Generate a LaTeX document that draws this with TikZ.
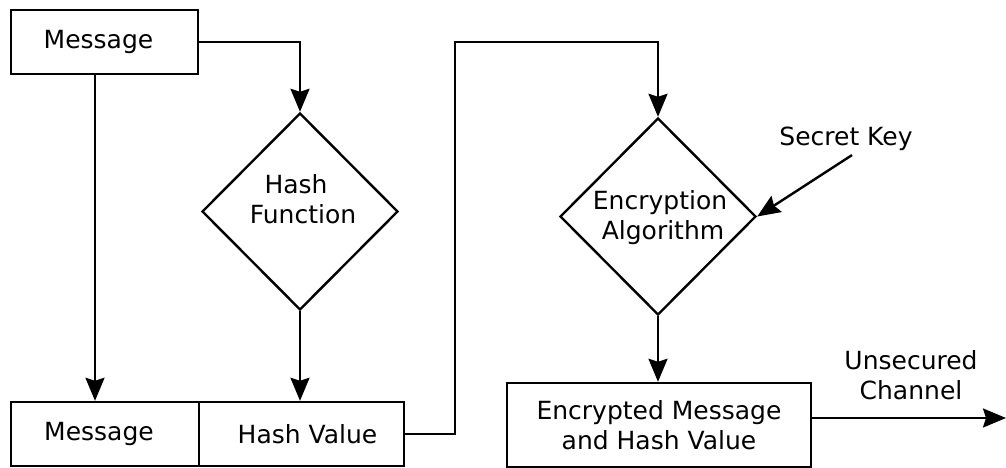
\documentclass[tikz,border=0pt]{standalone}
\usepackage{fontspec}
\setmainfont{DejaVu Sans}
\usetikzlibrary{shapes.geometric,arrows.meta,calc}
\begin{document}
\begin{tikzpicture}[x=1pt,y=-1pt,
  every node/.style={font=\fontsize{25}{30}\selectfont, inner sep=0pt},
  box/.style={draw, line width=2.4pt, rectangle, align=center},
  dia/.style={draw, line width=2.4pt, diamond, minimum width=196pt, minimum height=197pt},
  flow/.style={line width=2.4pt},
  arr/.style={flow, -{Stealth[length=23pt,width=19pt,inset=3pt]}}]
\useasboundingbox (0,0) rectangle (1006,468);

% message block and hash stage
\node[box, minimum width=187pt, minimum height=64pt] (msg1) at (104.5,42) {Message\hspace*{12pt}};
\node[dia] (hash) at (300,211.5) {};
\node[align=center] (hashtxt) at ([shift={(3,-12)}]hash.center) {\hspace*{-14pt}Hash\\Function};
\node[box, minimum width=188pt, minimum height=64pt] (msg2) at (105,434) {Message\hspace*{12pt}};
\node[box, minimum width=205pt, minimum height=64pt] (hv) at (301.5,434) {\hspace*{12pt}Hash Value};

% encryption stage
\node[dia] (enc) at (658,216.5) {};
\node[align=center] (enctxt) at ([shift={(2,1)}]enc.center) {Encryption\\\hspace*{6pt}Algorithm};
\node[box, minimum width=304pt, minimum height=84pt] (emh) at (659,425) {Encrypted Message\\and Hash Value};
\node (key) at (846,139) {Secret Key};
\node[align=center] (chan) at (911,375) {Unsecured\\Channel};
\coordinate (out) at (1006,418);
\coordinate (bend) at (455,42);

\draw[arr] (msg1.east) -| (hash.north);
\draw[arr] ([xshift=-9.5pt]msg1.south) -- ([xshift=-10pt]msg2.north);
\draw[arr] (hash.south) -- (hash.south |- hv.north);
\draw[arr] (hv.east) -| (bend) -| (enc.north);
\draw[arr] ([shift={(6pt,-4pt)}]key.south) -- (enc.east);
\draw[arr] (enc.south) -- (enc.south |- emh.north);
\draw[arr] (emh.east |- out) -- (out);
\end{tikzpicture}
\end{document}
